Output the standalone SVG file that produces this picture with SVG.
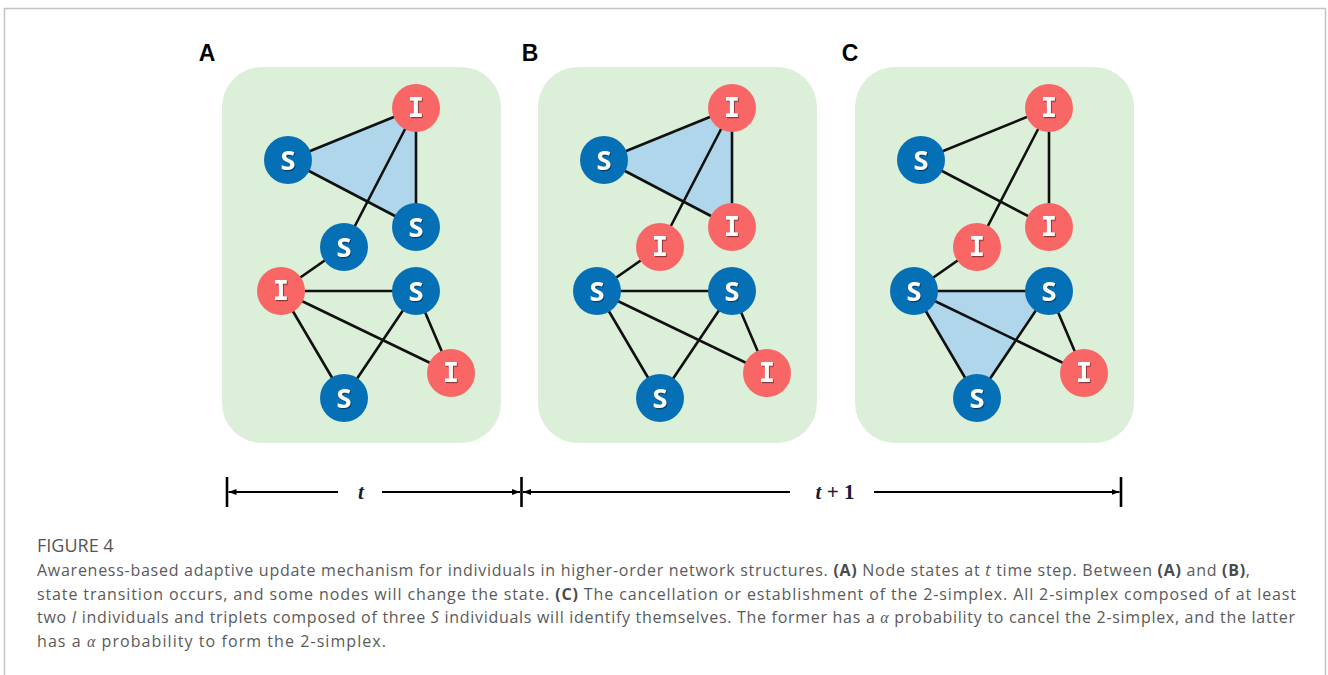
<svg xmlns="http://www.w3.org/2000/svg" width="1328" height="675" viewBox="0 0 1328 675">
  <style>
    .panel { fill: #dcefd9; }
    .simplex { fill: #afd6eb; stroke: none; }
    .edge { stroke: #111; stroke-width: 2.6; fill: none; stroke-linecap: round; }
    .s-node { fill: #0670b6; }
    .i-node { fill: #f96666; }
    .s-lbl { font-family: "Open Sans", "DejaVu Sans", sans-serif; font-weight: 700; font-size: 27px; fill: #fff; text-anchor: middle; }
    .i-lbl { font-family: "DejaVu Sans Mono", "Liberation Mono", monospace; font-weight: 700; font-size: 27px; fill: #fff; text-anchor: middle; }
    .panel-lbl { font-family: "Liberation Sans", Arial, sans-serif; font-weight: 700; font-size: 23px; fill: #000; text-anchor: middle; }
    .axis { stroke: #000; stroke-width: 2; fill: none; }
    .tick { stroke: #000; stroke-width: 2.6; }
    .axis-lbl { font-family: "Liberation Serif", "Times New Roman", serif; font-weight: 700; font-size: 21px; fill: #1a1a3a; text-anchor: middle; }
    .cap { font-family: "Open Sans", Lato, sans-serif; font-size: 16px; fill: #5a5a5a; }
    .cap-title { font-family: "Open Sans", Lato, sans-serif; font-size: 18px; fill: #555; }
    .b { font-weight: 700; fill: #4a4a4a; }
    .it { font-style: italic; }
    .gr { font-family: "Liberation Serif", serif; font-style: italic; }
  </style>
  <defs>
    <filter id="txtShadow" x="-50%" y="-50%" width="200%" height="200%">
      <feDropShadow dx="1" dy="1.2" stdDeviation="0.6" flood-color="#000" flood-opacity="0.45"/>
    </filter>
    <marker id="arrow" viewBox="0 0 8 6" refX="8" refY="3" markerWidth="8" markerHeight="6" markerUnits="userSpaceOnUse" orient="auto">
      <path d="M0,0 L8,3 L0,6 z" fill="#000"/>
    </marker>
    <!-- one network, reused in every panel -->
    <g id="edges">
      <line class="edge" x1="416" y1="108" x2="288" y2="160"/>
      <line class="edge" x1="288" y1="160" x2="416" y2="227"/>
      <line class="edge" x1="416" y1="108" x2="416" y2="227"/>
      <line class="edge" x1="416" y1="108" x2="344" y2="247"/>
      <line class="edge" x1="344" y1="247" x2="281" y2="291"/>
      <line class="edge" x1="281" y1="291" x2="416" y2="291"/>
      <line class="edge" x1="281" y1="291" x2="451" y2="373"/>
      <line class="edge" x1="281" y1="291" x2="344" y2="398"/>
      <line class="edge" x1="416" y1="291" x2="344" y2="398"/>
      <line class="edge" x1="416" y1="291" x2="451" y2="373"/>
    </g>
  </defs>

  <!-- outer frame -->
  <path d="M4.5,675 V8.5 H1325.5 V675" fill="none" stroke="#c4c4c4" stroke-width="1.5"/>

  <!-- panel labels -->
  <text class="panel-lbl" x="207" y="61">A</text>
  <text class="panel-lbl" x="530" y="61">B</text>
  <text class="panel-lbl" x="850" y="61">C</text>

  <!-- panel A -->
  <g id="panel-a">
    <rect class="panel" x="222" y="67" width="279" height="376" rx="40"/>
    <polygon class="simplex" points="416,108 288,160 416,227"/>
    <g id="connectors-a"><use href="#edges"/></g>
    <g id="a-n1"><circle class="i-node" cx="416" cy="108" r="24"/><text class="i-lbl" x="416" y="117" filter="url(#txtShadow)">I</text></g>
    <g id="a-n2"><circle class="s-node" cx="288" cy="160" r="24"/><text class="s-lbl" x="288" y="170" filter="url(#txtShadow)">S</text></g>
    <g id="a-n3"><circle class="s-node" cx="416" cy="227" r="24"/><text class="s-lbl" x="416" y="237" filter="url(#txtShadow)">S</text></g>
    <g id="a-n4"><circle class="s-node" cx="344" cy="247" r="24"/><text class="s-lbl" x="344" y="257" filter="url(#txtShadow)">S</text></g>
    <g id="a-n5"><circle class="i-node" cx="281" cy="291" r="24"/><text class="i-lbl" x="281" y="300" filter="url(#txtShadow)">I</text></g>
    <g id="a-n6"><circle class="s-node" cx="416" cy="291" r="24"/><text class="s-lbl" x="416" y="301" filter="url(#txtShadow)">S</text></g>
    <g id="a-n7"><circle class="i-node" cx="451" cy="373" r="24"/><text class="i-lbl" x="451" y="382" filter="url(#txtShadow)">I</text></g>
    <g id="a-n8"><circle class="s-node" cx="344" cy="398" r="24"/><text class="s-lbl" x="344" y="408" filter="url(#txtShadow)">S</text></g>
  </g>

  <!-- panel B -->
  <g id="panel-b" transform="translate(316,0)">
    <rect class="panel" x="222" y="67" width="279" height="376" rx="40"/>
    <polygon class="simplex" points="416,108 288,160 416,227"/>
    <g id="connectors-b"><use href="#edges"/></g>
    <g id="b-n1"><circle class="i-node" cx="416" cy="108" r="24"/><text class="i-lbl" x="416" y="117" filter="url(#txtShadow)">I</text></g>
    <g id="b-n2"><circle class="s-node" cx="288" cy="160" r="24"/><text class="s-lbl" x="288" y="170" filter="url(#txtShadow)">S</text></g>
    <g id="b-n3"><circle class="i-node" cx="416" cy="227" r="24"/><text class="i-lbl" x="416" y="236" filter="url(#txtShadow)">I</text></g>
    <g id="b-n4"><circle class="i-node" cx="344" cy="247" r="24"/><text class="i-lbl" x="344" y="256" filter="url(#txtShadow)">I</text></g>
    <g id="b-n5"><circle class="s-node" cx="281" cy="291" r="24"/><text class="s-lbl" x="281" y="301" filter="url(#txtShadow)">S</text></g>
    <g id="b-n6"><circle class="s-node" cx="416" cy="291" r="24"/><text class="s-lbl" x="416" y="301" filter="url(#txtShadow)">S</text></g>
    <g id="b-n7"><circle class="i-node" cx="451" cy="373" r="24"/><text class="i-lbl" x="451" y="382" filter="url(#txtShadow)">I</text></g>
    <g id="b-n8"><circle class="s-node" cx="344" cy="398" r="24"/><text class="s-lbl" x="344" y="408" filter="url(#txtShadow)">S</text></g>
  </g>

  <!-- panel C -->
  <g id="panel-c" transform="translate(633,0)">
    <rect class="panel" x="222" y="67" width="279" height="376" rx="40"/>
    <polygon class="simplex" points="281,291 416,291 344,398"/>
    <g id="connectors-c"><use href="#edges"/></g>
    <g id="c-n1"><circle class="i-node" cx="416" cy="108" r="24"/><text class="i-lbl" x="416" y="117" filter="url(#txtShadow)">I</text></g>
    <g id="c-n2"><circle class="s-node" cx="288" cy="160" r="24"/><text class="s-lbl" x="288" y="170" filter="url(#txtShadow)">S</text></g>
    <g id="c-n3"><circle class="i-node" cx="416" cy="227" r="24"/><text class="i-lbl" x="416" y="236" filter="url(#txtShadow)">I</text></g>
    <g id="c-n4"><circle class="i-node" cx="344" cy="247" r="24"/><text class="i-lbl" x="344" y="256" filter="url(#txtShadow)">I</text></g>
    <g id="c-n5"><circle class="s-node" cx="281" cy="291" r="24"/><text class="s-lbl" x="281" y="301" filter="url(#txtShadow)">S</text></g>
    <g id="c-n6"><circle class="s-node" cx="416" cy="291" r="24"/><text class="s-lbl" x="416" y="301" filter="url(#txtShadow)">S</text></g>
    <g id="c-n7"><circle class="i-node" cx="451" cy="373" r="24"/><text class="i-lbl" x="451" y="382" filter="url(#txtShadow)">I</text></g>
    <g id="c-n8"><circle class="s-node" cx="344" cy="398" r="24"/><text class="s-lbl" x="344" y="408" filter="url(#txtShadow)">S</text></g>
  </g>

  <!-- time axis -->
  <g id="time-axis">
    <line class="tick" x1="227" y1="477" x2="227" y2="507"/>
    <line class="tick" x1="521.5" y1="477" x2="521.5" y2="507"/>
    <line class="tick" x1="1121" y1="477" x2="1121" y2="507"/>
    <line class="axis" x1="338" y1="492" x2="228.5" y2="492" marker-end="url(#arrow)"/>
    <line class="axis" x1="382" y1="492" x2="520" y2="492" marker-end="url(#arrow)"/>
    <line class="axis" x1="790" y1="492" x2="523" y2="492" marker-end="url(#arrow)"/>
    <line class="axis" x1="874" y1="492" x2="1119.5" y2="492" marker-end="url(#arrow)"/>
    <text class="axis-lbl" x="361" y="499"><tspan font-style="italic">t</tspan></text>
    <text class="axis-lbl" x="835" y="499"><tspan font-style="italic">t</tspan> + 1</text>
  </g>

  <!-- caption -->
  <g id="caption">
    <text class="cap-title" x="37" y="552">FIGURE 4</text>
    <text class="cap" x="37" y="576" textLength="1213" lengthAdjust="spacing">Awareness-based adaptive update mechanism for individuals in higher-order network structures. <tspan class="b">(A)</tspan> Node states at <tspan class="it">t</tspan> time step. Between <tspan class="b">(A)</tspan> and <tspan class="b">(B)</tspan>,</text>
    <text class="cap" x="37" y="600" textLength="1259" lengthAdjust="spacing">state transition occurs, and some nodes will change the state. <tspan class="b">(C)</tspan> The cancellation or establishment of the 2-simplex. All 2-simplex composed of at least</text>
    <text class="cap" x="37" y="623" textLength="1258" lengthAdjust="spacing">two <tspan class="it">I</tspan> individuals and triplets composed of three <tspan class="it">S</tspan> individuals will identify themselves. The former has a <tspan class="gr">α</tspan> probability to cancel the 2-simplex, and the latter</text>
    <text class="cap" x="37" y="647" textLength="349" lengthAdjust="spacing">has a <tspan class="gr">α</tspan> probability to form the 2-simplex.</text>
  </g>
</svg>
